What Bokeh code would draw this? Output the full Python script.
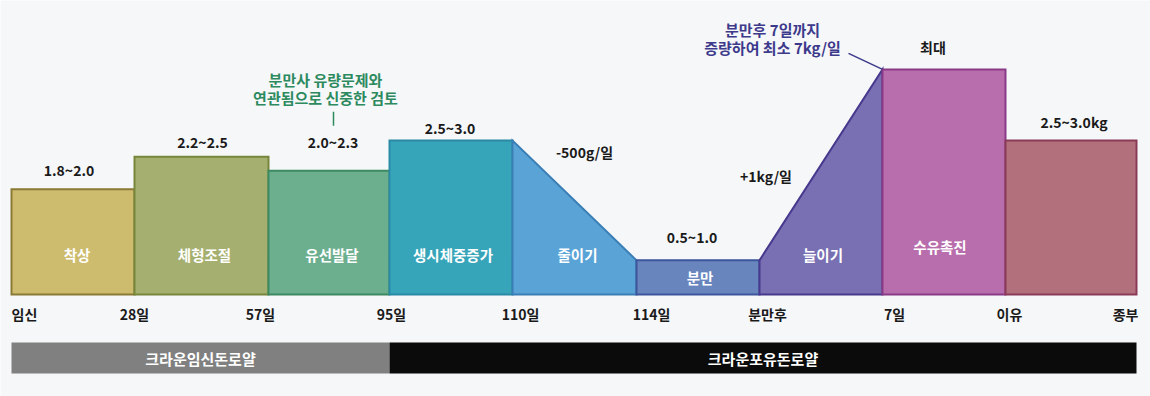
from bokeh.plotting import figure
from bokeh.models import Range1d, ColumnDataSource
from bokeh.core.properties import value
from bokeh.embed import file_html
from bokeh.resources import INLINE

# ---------------- data ----------------
stages = ["착상", "체형조절", "유선발달", "생시체중증가", "줄이기", "분만", "늘이기", "수유촉진", ""]
stage_width = [0.984, 1.072, 0.968, 0.984, 0.992, 0.984, 0.984, 0.984, 1.048]
start_level = [1.88, 2.46, 2.21, 2.75, 2.75, 0.61, 0.61, 4.02, 2.75]
end_level = [1.88, 2.46, 2.21, 2.75, 0.61, 0.61, 4.02, 4.02, 2.75]
value_labels = ["1.8~2.0", "2.2~2.5", "2.0~2.3", "2.5~3.0", "-500g/일", "0.5~1.0", "+1kg/일", "최대", "2.5~3.0kg"]
tick_labels = ["임신", "28일", "57일", "95일", "110일", "114일", "분만후", "7일", "이유", "종부"]
phase_names = ["크라운임신돈로얄", "크라운포유돈로얄"]
phase_stages = [(0, 3), (3, 9)]   # edge index ranges
note_green = ["분만사 유량문제와", "연관됨으로 신중한 검토"]
note_purple = ["분만후 7일까지", "증량하여 최소 7kg/일"]

# ---------------- style ----------------
fills = ["#cdbb6e", "#a5af70", "#6caf8f", "#36a5b9", "#5aa3d6", "#6885be", "#7870b2", "#b86eac", "#b2707d"]
borders = ["#8a7a35", "#76863a", "#3d8a62", "#2a8aa6", "#3a7eb6", "#3c559b", "#48398e", "#8a3a86", "#8a3a56"]
name_dx = [4, 3, 3, 2, 3, 2, 2, -4, 0]                  # px offsets of stage names
name_dy = [40, 40, 40, 40, 40, 17, 40, 48, 0]           # px above baseline for stage names
val_dx = [-4, 1, 4, -1, 10, -6, -55, -11, 3]            # px offsets of value labels
val_dy = [19, 15, 29, 13, -11, 23, -107, 22, 19]        # px above segment top
tick_dx = [0, 0, -8, 2, 8, 15, 8, 12, 4, 2]
BG = "#f6f7f9"
FONT = value("Noto Sans CJK KR")

W, H = 1150, 396
SEG = 125.0       # px per stage unit
PX = 56.0         # px per level unit
LEFT = 11.0       # px from frame left to first stage
BASE = 294.0      # px from frame top to baseline

p = figure(width=W, height=H, output_backend="svg", toolbar_location=None,
           x_range=Range1d(-LEFT / SEG, (W - LEFT) / SEG),
           y_range=Range1d(-(H - BASE) / PX, BASE / PX),
           x_axis_type=None, y_axis_type=None, min_border=0,
           background_fill_color=BG, border_fill_color=BG, outline_line_color=None)
p.grid.visible = False


def dx(px):
    return px / SEG


def dy(px):
    return px / PX


edges = [0.0]
for w in stage_width:
    edges.append(edges[-1] + w)
n = len(stages)
centers = [(edges[i] + edges[i + 1]) / 2 for i in range(n)]

# stage shapes
xs, ys = [], []
for i in range(n):
    xs.append([edges[i], edges[i], edges[i + 1], edges[i + 1]])
    ys.append([0, start_level[i], end_level[i], 0])
p.patches(xs=xs, ys=ys, fill_color=fills, line_color=borders, line_width=2, line_join="miter")

# stage names
names_src = ColumnDataSource(dict(
    x=[centers[i] + dx(name_dx[i]) for i in range(n) if stages[i]],
    y=[dy(name_dy[i]) for i in range(n) if stages[i]],
    t=[s for s in stages if s]))
p.text(x="x", y="y", text="t", source=names_src, text_color="white", text_font=FONT,
       text_font_size="14.5px", text_font_style="bold", text_align="center", text_baseline="middle")

# value labels
top = [max(a, b) for a, b in zip(start_level, end_level)]
val_src = ColumnDataSource(dict(
    x=[centers[i] + dx(val_dx[i]) for i in range(n)],
    y=[top[i] + dy(val_dy[i]) for i in range(n)],
    t=value_labels))
p.text(x="x", y="y", text="t", source=val_src, text_color="#1a1a1a", text_font=FONT,
       text_font_size="14px", text_font_style="bold", text_align="center", text_baseline="middle")

# tick labels along baseline
m = len(tick_labels)
aligns = ["left"] + ["center"] * (m - 2) + ["right"]
tick_src = ColumnDataSource(dict(
    x=[edges[i] + dx(tick_dx[i]) for i in range(m)],
    y=[-dy(19)] * m, t=tick_labels, a=aligns))
p.text(x="x", y="y", text="t", source=tick_src, text_color="#1a1a1a", text_font=FONT,
       text_font_size="14px", text_font_style="bold", text_align="a", text_baseline="middle")

# phase bands
pl = [edges[a] for a, b in phase_stages]
pr = [edges[b] for a, b in phase_stages]
p.quad(left=pl, right=pr, top=-dy(48), bottom=-dy(79),
       fill_color=["#7f807f", "#0b0b0b"], line_color=None)
p.text(x=[(a + b) / 2 for a, b in zip(pl, pr)], y=[-dy(63.5)] * 2, text=phase_names,
       text_color="white", text_font=FONT, text_font_size="15px", text_font_style="bold",
       text_align="center", text_baseline="middle")

# green note over stage 3
p.text(x=[centers[2] - dx(3.5)] * 2, y=[start_level[2] + dy(91), start_level[2] + dy(73)], text=note_green,
       text_color="#2d8a5f", text_font=FONT, text_font_size="15px", text_font_style="bold",
       text_align="center", text_baseline="middle")
p.segment(x0=[centers[2] + dx(4.5)], y0=[start_level[2] + dy(59)],
          x1=[centers[2] + dx(4.5)], y1=[start_level[2] + dy(45)],
          line_color="#2d8a5f", line_width=1.5)

# purple note at lactation peak
peak_x, peak_y = edges[7], start_level[7]
p.text(x=[peak_x - dx(110)] * 2, y=[peak_y + dy(40), peak_y + dy(22)], text=note_purple,
       text_color="#3d3a8c", text_font=FONT, text_font_size="15px", text_font_style="bold",
       text_align="center", text_baseline="middle")
p.segment(x0=[peak_x - dx(34)], y0=[peak_y + dy(16)], x1=[peak_x], y1=[peak_y],
          line_color="#3d3a8c", line_width=1.5)

html = file_html(p, INLINE)
html = html.replace("<body>", '<body style="background:%s">' % BG, 1)
open("out.html", "w").write(html)
